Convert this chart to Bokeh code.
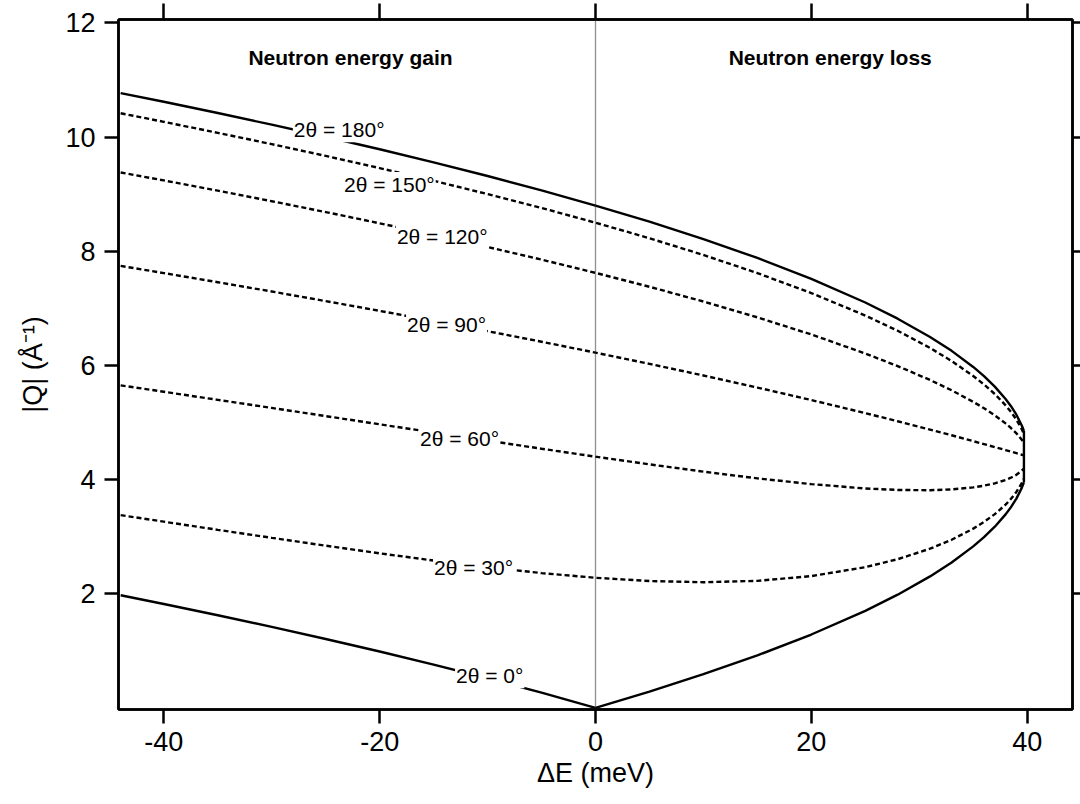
from bokeh.plotting import figure
from bokeh.models import Range1d, FixedTicker, LinearAxis, Label, Span
from bokeh.embed import file_html
from bokeh.resources import INLINE

# Energy transfer grid (meV) shared by every scattering-angle curve
energy_transfer = [-44, -40, -35, -30, -25, -20, -15, -10, -5, 0, 5, 10, 15, 20,
                   25, 28, 31, 33, 35, 36, 37, 38, 38.5, 39, 39.5, 39.7]

# |Q| (1/Angstrom) along each constant-2theta trajectory
q_0 = [1.971, 1.818, 1.621, 1.417, 1.206, 0.986, 0.757, 0.518, 0.266, 0.0,
       0.283, 0.588, 0.918, 1.284, 1.699, 1.982, 2.302, 2.546, 2.828, 2.990,
       3.173, 3.389, 3.516, 3.665, 3.853, 3.951]
q_30 = [3.376, 3.261, 3.118, 2.978, 2.840, 2.706, 2.580, 2.463, 2.360, 2.278,
        2.221, 2.200, 2.224, 2.307, 2.464, 2.603, 2.788, 2.944, 3.139, 3.256,
        3.393, 3.560, 3.661, 3.781, 3.936, 4.017]
q_60 = [5.650, 5.537, 5.396, 5.254, 5.111, 4.967, 4.824, 4.681, 4.539, 4.400,
        4.265, 4.138, 4.020, 3.919, 3.843, 3.817, 3.812, 3.826, 3.862, 3.892,
        3.933, 3.992, 4.031, 4.082, 4.154, 4.193]
q_90 = [7.743, 7.617, 7.457, 7.294, 7.126, 6.955, 6.779, 6.599, 6.414, 6.223,
        6.026, 5.822, 5.611, 5.392, 5.163, 5.021, 4.875, 4.775, 4.672, 4.620,
        4.568, 4.515, 4.488, 4.461, 4.434, 4.423]
q_120 = [9.380, 9.240, 9.061, 8.876, 8.686, 8.489, 8.286, 8.074, 7.853, 7.621,
         7.377, 7.118, 6.841, 6.541, 6.208, 5.987, 5.744, 5.563, 5.361, 5.249,
         5.125, 4.983, 4.902, 4.810, 4.697, 4.641]
q_150 = [10.417, 10.267, 10.074, 9.876, 9.670, 9.456, 9.234, 9.001, 8.758, 8.500,
         8.227, 7.934, 7.617, 7.267, 6.873, 6.606, 6.305, 6.076, 5.814, 5.665,
         5.497, 5.300, 5.184, 5.050, 4.881, 4.794]
q_180 = [10.771, 10.618, 10.421, 10.217, 10.006, 9.786, 9.557, 9.318, 9.066, 8.800,
         8.517, 8.212, 7.882, 7.516, 7.101, 6.818, 6.498, 6.254, 5.972, 5.810,
         5.627, 5.411, 5.284, 5.135, 4.947, 4.849]

angles = [0, 30, 60, 90, 120, 150, 180]
curves = [q_0, q_30, q_60, q_90, q_120, q_150, q_180]

# Where each "2θ = ..." tag sits (meV, 1/Angstrom)
tag_x = [-9.8, -11.3, -12.6, -13.8, -14.2, -19.1, -23.75]
tag_y = [0.56, 2.45, 4.72, 6.72, 8.25, 9.17, 10.13]

x_ticks = [-40, -20, 0, 20, 40]
x_tick_labels = ["-40", "-20", "0", "20", "40"]
y_ticks = [2, 4, 6, 8, 10, 12]

FONT = "Liberation Sans"

p = figure(width=1080, height=804, output_backend="svg", toolbar_location=None,
           x_range=Range1d(-44.2, 44.2), y_range=Range1d(-0.03, 12.06),
           min_border_left=118, min_border_right=8, min_border_top=19,
           min_border_bottom=95, background_fill_color="white",
           border_fill_color="white")
p.xgrid.visible = False
p.ygrid.visible = False
p.outline_line_color = "black"
p.outline_line_width = 2.5

bottom_axis = p.below[0]
left_axis = p.left[0]
top_axis = LinearAxis()
right_axis = LinearAxis()
p.add_layout(top_axis, "above")
p.add_layout(right_axis, "right")

for ax in (bottom_axis, top_axis):
    ax.ticker = FixedTicker(ticks=x_ticks)
for ax in (left_axis, right_axis):
    ax.ticker = FixedTicker(ticks=y_ticks)

for ax in (bottom_axis, top_axis, left_axis, right_axis):
    ax.axis_line_width = 2.5
    ax.axis_line_color = "black"
    ax.major_tick_line_width = 2.5
    ax.major_tick_line_color = "black"
    ax.major_tick_in = 0
    ax.minor_tick_in = 0
    ax.minor_tick_out = 0
    ax.major_label_text_font = FONT
    ax.major_label_text_font_size = "27px"
    ax.major_label_text_color = "black"
    ax.axis_label_text_font = FONT
    ax.axis_label_text_font_size = "27px"
    ax.axis_label_text_font_style = "normal"
    ax.axis_label_text_color = "black"

bottom_axis.major_tick_out = 14
bottom_axis.major_label_standoff = 8
bottom_axis.major_label_overrides = dict(zip(x_ticks, x_tick_labels))
bottom_axis.axis_label = "ΔE (meV)"
bottom_axis.axis_label_standoff = 4
left_axis.major_tick_out = 14
left_axis.major_label_standoff = 9
left_axis.axis_label = "|Q| (Å⁻¹)"
left_axis.axis_label_standoff = 14

# Mirror axes: ticks only, no tick labels
top_axis.major_tick_out = 16
top_axis.major_label_overrides = {t: "" for t in x_ticks}
right_axis.major_tick_out = 8
right_axis.major_label_overrides = {t: "" for t in y_ticks}
for ax in (top_axis, right_axis):
    ax.major_label_text_font_size = "1px"
    ax.major_label_standoff = 0

# Elastic line marker
p.add_layout(Span(location=0, dimension="height", line_color="#222222",
                  line_width=1.3, line_dash="1 1"))

for angle, q in zip(angles, curves):
    dash = "solid" if angle in (0, 180) else "5 3"
    p.line(energy_transfer, q, line_color="black", line_width=2.4, line_dash=dash)

# Closing segment where the final energy reaches zero
p.line([energy_transfer[-1], energy_transfer[-1]], [q_0[-1], q_180[-1]],
       line_color="black", line_width=2.4)

for angle, tx, ty in zip(angles, tag_x, tag_y):
    p.add_layout(Label(x=tx, y=ty, text=f"2θ = {angle}°", text_font=FONT,
                       text_font_size="21px", text_align="center",
                       text_baseline="middle", text_color="black",
                       background_fill_color="white", padding=1))

p.add_layout(Label(x=-22.7, y=11.40, text="Neutron energy gain", text_font=FONT,
                   text_font_size="21px", text_font_style="bold",
                   text_align="center", text_baseline="middle", text_color="black"))
p.add_layout(Label(x=21.75, y=11.40, text="Neutron energy loss", text_font=FONT,
                   text_font_size="21px", text_font_style="bold",
                   text_align="center", text_baseline="middle", text_color="black"))

open("out.html", "w").write(file_html(p, INLINE))
